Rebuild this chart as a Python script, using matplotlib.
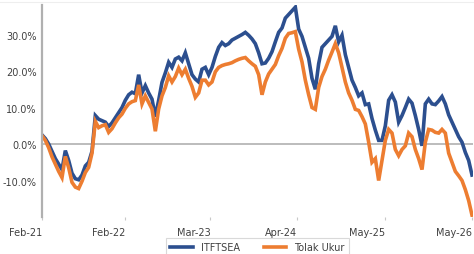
import matplotlib
matplotlib.use("Agg")
import matplotlib.pyplot as plt
import numpy as np
from matplotlib.lines import Line2D

# ---- data (percent), evenly spaced observations ----
itftsea = [2.5, 1.5, 0.0, -2.0, -4.0, -5.5, -7.0, -1.8, -4.5, -8.0,
           -9.5, -9.8, -8.5, -6.0, -5.0, -2.0, 7.8, 6.8, 6.4, 6.0,
           4.8, 5.8, 7.2, 8.6, 10.0, 12.0, 13.5, 14.2, 13.8, 19.0,
           14.0, 16.0, 14.0, 12.3, 7.5, 12.0, 16.9, 19.5, 22.4, 21.0,
           23.3, 23.8, 22.8, 25.0, 22.0, 19.0, 17.8, 17.0, 20.5, 21.0,
           19.0, 21.0, 24.0, 26.5, 27.8, 27.0, 27.5, 28.5, 29.0, 29.5,
           30.0, 30.6, 29.8, 28.8, 27.5, 25.0, 22.0, 22.2, 23.5, 25.3,
           28.0, 30.6, 31.8, 34.5, 35.5, 36.5, 37.5, 31.5, 29.5, 26.5,
           23.5, 18.0, 15.0, 22.0, 26.5, 27.5, 28.5, 29.5, 32.4, 28.0,
           29.8, 24.5, 21.0, 17.5, 15.5, 13.2, 14.0, 10.8, 11.0, 7.0,
           3.8, 1.0, 1.0, 5.0, 12.0, 13.5, 11.5, 6.0, 7.8, 10.0,
           12.3, 11.2, 7.8, 4.0, -0.5, 11.0, 12.3, 11.0, 10.8, 11.8,
           13.0, 11.0, 8.0, 6.0, 4.0, 2.0, 0.5, -2.3, -4.5, -8.5]

tolak_ukur = [2.3, 1.0, -1.0, -3.5, -5.5, -7.5, -9.2, -3.4, -6.5, -10.5,
              -11.8, -12.2, -10.2, -7.8, -6.4, -2.5, 6.2, 4.5, 5.0, 5.3,
              3.2, 4.2, 5.8, 7.2, 8.2, 9.8, 11.0, 11.6, 11.9, 16.2,
              11.0, 13.2, 11.4, 9.6, 3.5, 9.6, 13.2, 15.5, 18.7, 17.0,
              18.5, 20.8, 19.0, 20.5, 18.0, 15.8, 12.8, 14.0, 17.5, 17.5,
              16.2, 17.0, 19.8, 21.0, 21.5, 21.8, 22.0, 22.3, 22.8, 23.2,
              23.5, 23.7, 22.8, 22.0, 21.3, 19.0, 13.5, 17.0, 19.2, 20.5,
              21.8, 24.2, 26.2, 29.0, 30.3, 30.5, 30.8, 26.0, 22.5, 17.5,
              13.5, 10.0, 9.5, 15.5, 18.5, 20.5, 23.0, 25.2, 27.5, 25.0,
              21.0, 17.0, 14.0, 12.0, 9.5, 9.2, 7.5, 5.5, 0.5, -5.0,
              -4.0, -10.0, -4.5, 1.0, 4.0, 3.0, -1.5, -3.2, -1.5, -0.5,
              3.0, 2.0, -1.5, -4.0, -7.0, 0.5, 4.0, 3.8, 3.2, 3.0,
              4.0, 3.0, -2.5, -5.0, -7.5, -8.7, -10.0, -12.5, -15.5, -19.5]

tick_positions = [0, 25, 50.5, 76.5, 103, 129]
tick_labels = ["Feb-21", "Feb-22", "Mar-23", "Apr-24", "May-25", "May-26"]
series_names = ["ITFTSEA", "Tolak Ukur"]
y_ticks = [-10, 0, 10, 20, 30]

x = np.arange(len(itftsea))

fig = plt.figure(figsize=(4.74, 2.55), dpi=100)
ax = fig.add_axes([42/474, 37/255, 431/474, 212/255])

ax.plot(x, itftsea, color="#2C4F8F", lw=2.6, label=series_names[0],
        solid_joinstyle="miter")
ax.plot(x, tolak_ukur, color="#ED7D31", lw=2.6, label=series_names[1],
        solid_joinstyle="miter")

ax.axhline(0, color="#b0b0b0", lw=1.2, zorder=0)

ax.set_xlim(0, 129.3)
ax.set_ylim(-20, 38.1)

ax.set_yticks(y_ticks)
ax.set_yticklabels([f"{v:.1f}%" for v in y_ticks])
ax.set_xticks(tick_positions)
ax.set_xticklabels(tick_labels, ha="right")

ax.tick_params(axis="y", length=0, pad=4, labelsize=7, labelcolor="#404040")
ax.tick_params(axis="x", length=2, width=0.8, color="#c8c8c8", pad=5,
               labelsize=7, labelcolor="#404040")

for s in ["top", "right", "bottom"]:
    ax.spines[s].set_visible(False)
ax.spines["left"].set_color("#b0b0b0")
ax.spines["left"].set_linewidth(1.6)

leg = fig.legend(loc="center", bbox_to_anchor=(0.543, 6.5/255),
                 ncol=2, fontsize=7, frameon=True, fancybox=False,
                 handlelength=2.3, columnspacing=2.5, borderpad=0.45)
leg.get_frame().set_edgecolor("#d0d0d0")
leg.get_frame().set_linewidth(0.8)
for t in leg.get_texts():
    t.set_color("#404040")

fig.add_artist(Line2D([0, 1], [1 - 3/255, 1 - 3/255], color="#eeeeee", lw=0.8))

fig.savefig("out.png", dpi=100)
